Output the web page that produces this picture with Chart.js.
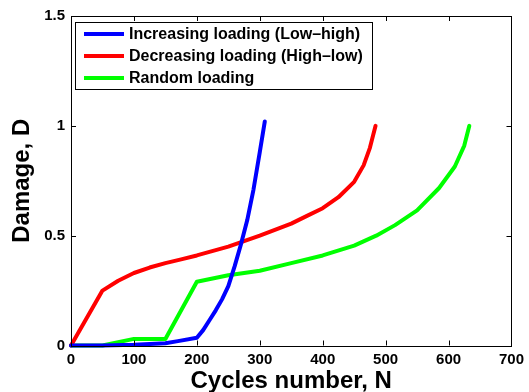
<!DOCTYPE html>
<html>
<head>
<meta charset="utf-8">
<script src="https://cdn.jsdelivr.net/npm/chart.js@4/dist/chart.umd.min.js"></script>
<style>
  html, body { margin: 0; padding: 0; background: #fff; }
  #chart { display: block; }
</style>
</head>
<body>
<canvas id="chart" width="529" height="392"></canvas>
<script>
// cycles number N and damage D
var blueN = [0, 50, 100, 150, 170, 200, 210, 220, 230, 240, 250, 260, 270, 280, 290, 300, 308];
var blueD = [0, 0, 0.003, 0.01, 0.02, 0.035, 0.07, 0.115, 0.16, 0.21, 0.27, 0.36, 0.46, 0.57, 0.71, 0.88, 1.02];

var redN = [0, 25, 50, 75, 100, 125, 150, 175, 200, 250, 300, 350, 375, 400, 425, 450, 465, 475, 484];
var redD = [0, 0.125, 0.25, 0.295, 0.33, 0.355, 0.375, 0.392, 0.41, 0.45, 0.5, 0.555, 0.59, 0.625, 0.675, 0.745, 0.82, 0.9, 1.0];

var greenN = [0, 50, 100, 150, 200, 250, 300, 350, 400, 450, 485, 515, 550, 585, 610, 625, 633];
var greenD = [0, 0, 0.03, 0.03, 0.29, 0.32, 0.34, 0.375, 0.41, 0.455, 0.5, 0.548, 0.615, 0.717, 0.815, 0.91, 1.0];

var seriesNames = ['Increasing loading (Low\u2013high)', 'Decreasing loading (High\u2013low)', 'Random loading'];
var seriesColors = ['#0000ff', '#ff0000', '#00ff00'];

var xTicks = [0, 100, 200, 300, 400, 500, 600, 700];
var yTicks = [0, 0.5, 1, 1.5];

var FONT = '"Liberation Sans", Arial, sans-serif';

function toPoints(xs, ys) {
  return xs.map(function(x, i) { return { x: x, y: ys[i] }; });
}

// box, inward ticks and the legend, MATLAB style
var matlabBox = {
  id: 'matlabBox',
  afterDatasetsDraw: function(chart) {
    var ctx = chart.ctx;
    var a = chart.chartArea;
    var xs = chart.scales.x, ys = chart.scales.y;
    ctx.save();
    ctx.strokeStyle = '#000';
    ctx.lineWidth = 1;
    ctx.strokeRect(Math.round(a.left) + 0.5, Math.round(a.top) + 0.5,
      Math.round(a.right - a.left), Math.round(a.bottom - a.top));
    ctx.beginPath();
    xTicks.forEach(function(t) {
      var px = Math.round(xs.getPixelForValue(t)) + 0.5;
      ctx.moveTo(px, a.bottom); ctx.lineTo(px, a.bottom - 5);
      ctx.moveTo(px, a.top); ctx.lineTo(px, a.top + 5);
    });
    yTicks.forEach(function(t) {
      var py = Math.round(ys.getPixelForValue(t)) + 0.5;
      ctx.moveTo(a.left, py); ctx.lineTo(a.left + 5, py);
      ctx.moveTo(a.right, py); ctx.lineTo(a.right - 5, py);
    });
    ctx.stroke();

    // legend
    var lx = a.left + 4, ly = a.top + 5.5, lw = 297, lh = 67;
    ctx.fillStyle = '#fff';
    ctx.fillRect(lx, ly, lw, lh);
    ctx.strokeRect(Math.round(lx) + 0.5, Math.round(ly) + 0.5, lw, lh);
    ctx.font = 'bold 16px ' + FONT;
    ctx.textBaseline = 'middle';
    chart.data.datasets.forEach(function(ds, i) {
      var y = ly + 12.5 + i * 22;
      ctx.strokeStyle = ds.borderColor;
      ctx.lineWidth = 4;
      ctx.beginPath();
      ctx.moveTo(lx + 9, y); ctx.lineTo(lx + 49, y);
      ctx.stroke();
      ctx.fillStyle = '#000';
      ctx.fillText(ds.label, lx + 54, y + 1);
    });
    ctx.restore();
  }
};

var ctx = document.getElementById('chart').getContext('2d');
var myChart = new Chart(ctx, {
  type: 'line',
  data: {
    datasets: [
      { label: seriesNames[0], data: toPoints(blueN, blueD), borderColor: seriesColors[0] },
      { label: seriesNames[1], data: toPoints(redN, redD), borderColor: seriesColors[1] },
      { label: seriesNames[2], data: toPoints(greenN, greenD), borderColor: seriesColors[2] }
    ]
  },
  options: {
    responsive: false,
    animation: false,
    devicePixelRatio: 1,
    layout: { padding: { top: 16, right: 12, left: 0, bottom: 0 } },
    elements: {
      line: { borderWidth: 4, tension: 0, fill: false, borderCapStyle: 'round', borderJoinStyle: 'round' },
      point: { radius: 0 }
    },
    datasets: { line: { clip: 5 } },
    plugins: {
      legend: { display: false },
      tooltip: { enabled: false }
    },
    scales: {
      x: {
        type: 'linear',
        min: 0, max: 700,
        afterBuildTicks: function(s) { s.ticks = xTicks.map(function(v) { return { value: v }; }); },
        afterFit: function(s) { s.height = 46.5; },
        grid: { display: false, drawTicks: false },
        border: { display: false },
        ticks: { color: '#000', font: { family: FONT, size: 15, weight: 'bold' }, padding: 5, maxRotation: 0 },
        title: { display: true, text: 'Cycles number, N', color: '#000', font: { family: FONT, size: 24, weight: 'bold' }, padding: { top: 0, bottom: -4 } }
      },
      y: {
        type: 'linear',
        min: 0, max: 1.5,
        afterBuildTicks: function(s) { s.ticks = yTicks.map(function(v) { return { value: v }; }); },
        afterFit: function(s) { s.width = 71; },
        grid: { display: false, drawTicks: false },
        border: { display: false },
        ticks: { color: '#000', font: { family: FONT, size: 15, weight: 'bold' }, padding: 6, callback: function(v) { return String(v); } },
        title: { display: true, text: 'Damage, D', color: '#000', font: { family: FONT, size: 24, weight: 'bold' }, padding: { top: 8, bottom: 0 } }
      }
    }
  },
  plugins: [matlabBox]
});
</script>
</body>
</html>
